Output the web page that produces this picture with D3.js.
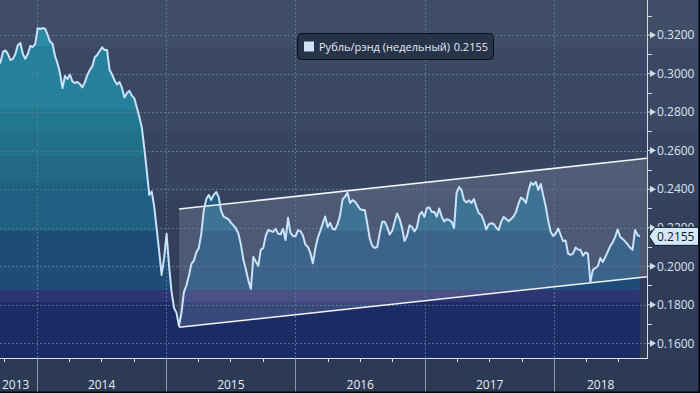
<!DOCTYPE html>
<html><head><meta charset="utf-8">
<script src="https://cdn.jsdelivr.net/npm/d3@7/dist/d3.min.js"></script>
<style>html,body{margin:0;padding:0;background:#2c3a55;} svg{display:block;}</style>
</head><body>
<svg id="chart" width="700" height="393"></svg>
<script>
// ---------- DATA ----------
const seriesName = "Рубль/рэнд (недельный)";
const firstWeek = "2013-09-13";          // weekly observations (Fridays)
const weeklyValues = [
0.3039,0.3060,0.3112,0.3120,0.3101,0.3070,0.3076,0.3101,0.3148,0.3159,
0.3101,0.3076,0.3101,0.3143,0.3138,0.3153,0.3236,0.3231,0.3236,0.3233,
0.3200,0.3166,0.3153,0.3091,0.3053,0.3001,0.2925,0.2987,0.2972,0.2995,
0.2959,0.2951,0.2956,0.2946,0.2928,0.2954,0.2992,0.3018,0.3037,0.3083,
0.3096,0.3117,0.3136,0.3122,0.3122,0.3018,0.2995,0.2964,0.2943,0.2956,
0.2925,0.2876,0.2899,0.2910,0.2885,0.2871,0.2824,0.2775,0.2720,0.2614,
0.2497,0.2370,0.2387,0.2310,0.2194,0.2079,0.1955,0.2043,0.2168,0.2002,
0.1867,0.1784,0.1758,0.1690,0.1758,0.1867,0.1900,0.1950,0.2012,0.2028,
0.2072,0.2095,0.2168,0.2290,0.2347,0.2370,0.2344,0.2370,0.2385,0.2360,
0.2287,0.2258,0.2251,0.2243,0.2225,0.2212,0.2196,0.2168,0.2111,0.2033,
0.1983,0.1926,0.1882,0.2048,0.2025,0.2002,0.2085,0.2095,0.2157,0.2188,
0.2183,0.2178,0.2194,0.2168,0.2166,0.2194,0.2136,0.2251,0.2173,0.2157,
0.2155,0.2186,0.2183,0.2160,0.2113,0.2100,0.2069,0.2015,0.2090,0.2147,
0.2183,0.2222,0.2258,0.2204,0.2225,0.2194,0.2191,0.2219,0.2264,0.2347,
0.2361,0.2381,0.2328,0.2343,0.2335,0.2317,0.2297,0.2292,0.2292,0.2219,
0.2142,0.2105,0.2095,0.2100,0.2173,0.2231,0.2231,0.2204,0.2165,0.2183,
0.2230,0.2274,0.2245,0.2199,0.2131,0.2157,0.2212,0.2204,0.2181,0.2201,
0.2266,0.2282,0.2256,0.2302,0.2305,0.2282,0.2283,0.2257,0.2300,0.2257,
0.2232,0.2244,0.2240,0.2230,0.2199,0.2380,0.2411,0.2396,0.2344,0.2331,
0.2342,0.2328,0.2349,0.2308,0.2274,0.2267,0.2235,0.2191,0.2217,0.2223,
0.2219,0.2200,0.2188,0.2230,0.2256,0.2245,0.2233,0.2245,0.2258,0.2282,
0.2326,0.2356,0.2347,0.2328,0.2391,0.2434,0.2422,0.2437,0.2396,0.2427,
0.2365,0.2310,0.2235,0.2178,0.2157,0.2170,0.2196,0.2162,0.2130,0.2134,
0.2066,0.2059,0.2066,0.2097,0.2087,0.2085,0.2055,0.2072,0.2064,0.1919,
0.1981,0.1991,0.2000,0.2043,0.2022,0.2048,0.2076,0.2105,0.2124,0.2152,
0.2191,0.2152,0.2142,0.2129,0.2113,0.2097,0.2085,0.2188,0.2162,0.2155
];
const lastValue = 0.2155;
const channelDates = ["2015-02-06", "2018-09-20"];
const channelUpper = [0.2297, 0.2560];
const channelLower = [0.1683, 0.1946];
const yTicks = [0.16,0.18,0.20,0.22,0.24,0.26,0.28,0.30,0.32];
const yMinorTicks = [0.17,0.19,0.21,0.23,0.25,0.27,0.29,0.31,0.33];
const yearLabels = ["2013","2014","2015","2016","2017","2018"];

// ---------- LAYOUT ----------
const W = 700, H = 393, plotR = 647, plotB = 358;
const svg = d3.select("#chart");
const parse = d3.timeParse("%Y-%m-%d");
const start = parse(firstWeek);
const dates = weeklyValues.map((v,i) => d3.timeDay.offset(start, 7*i));
const data = weeklyValues.map((v,i) => ({d: dates[i], v}));

const x = d3.scaleTime()
  .domain([new Date(2013,8,18,12), new Date(2018,8,19,20)])
  .range([0, plotR]);
const y = d3.scaleLinear().domain([0.16, 0.32]).range([343.3, 35]);

const defs = svg.append("defs");
defs.append("clipPath").attr("id","plotclip").append("rect")
  .attr("x",0).attr("y",0).attr("width",plotR).attr("height",plotB);

// background bands
const bgBands = [[0,47,"#404d67"],[47,130,"#3b4863"],[130,200,"#37445f"],[200,270,"#333f5b"],[270,plotB,"#2f3b57"]];
svg.append("g").selectAll("rect").data(bgBands).join("rect")
  .attr("x",0).attr("width",W).attr("y",d=>d[0]).attr("height",d=>d[1]-d[0]).attr("fill",d=>d[2]);

// area gradient (hard bands)
const areaBands = [[0,46,"#2a8ba5"],[46,109,"#25819b"],[109,131,"#237891"],[131,156,"#22718b"],[156,183,"#216987"],[183,231,"#1f5f81"],[231,290,"#1d4c78"],[290,302,"#2e3573"],[302,plotB,"#1b2c64"]];
const grad = defs.append("linearGradient").attr("id","areagrad")
  .attr("gradientUnits","userSpaceOnUse").attr("x1",0).attr("y1",0).attr("x2",0).attr("y2",plotB);
areaBands.forEach(b=>{
  grad.append("stop").attr("offset",b[0]/plotB).attr("stop-color",b[2]);
  grad.append("stop").attr("offset",b[1]/plotB).attr("stop-color",b[2]);
});

const plot = svg.append("g").attr("clip-path","url(#plotclip)");

const area = d3.area().x(d=>x(d.d)).y0(plotB).y1(d=>y(d.v));
plot.append("path").datum(data).attr("d",area).attr("fill","url(#areagrad)");

// channel overlay
const ch = channelDates.map((d,i)=>({d: parse(d), u: channelUpper[i], l: channelLower[i]}));
plot.append("path").datum(ch)
  .attr("d", d3.area().x(d=>x(d.d)).y0(d=>y(d.l)).y1(d=>y(d.u)))
  .attr("fill","rgba(215,222,235,0.17)");

// gridlines
const grid = plot.append("g").attr("stroke","#5d7f99").attr("stroke-width",1).attr("stroke-dasharray","2,2").attr("opacity",0.85);
grid.selectAll("line.h").data(yTicks).join("line").attr("class","h")
  .attr("x1",0).attr("x2",plotR).attr("y1",d=>Math.round(y(d))+0.5).attr("y2",d=>Math.round(y(d))+0.5);
const yearStarts = d3.timeYear.range(new Date(2014,0,1), new Date(2018,0,2));
grid.selectAll("line.v").data(yearStarts).join("line").attr("class","v")
  .attr("y1",0).attr("y2",plotB).attr("x1",d=>Math.round(x(d))+0.5).attr("x2",d=>Math.round(x(d))+0.5);

// channel lines
const chLineU = d3.line().x(d=>x(d.d)).y(d=>y(d.u));
const chLineL = d3.line().x(d=>x(d.d)).y(d=>y(d.l));
plot.append("path").datum(ch).attr("d",chLineU).attr("fill","none").attr("stroke","#f2f4f7").attr("stroke-width",1.5);
plot.append("path").datum(ch).attr("d",chLineL).attr("fill","none").attr("stroke","#f2f4f7").attr("stroke-width",1.5);

// series line
plot.append("path").datum(data)
  .attr("d", d3.line().x(d=>x(d.d)).y(d=>y(d.v)))
  .attr("fill","none").attr("stroke","#c8e3fb").attr("stroke-width",2).attr("stroke-linejoin","round");

// ---------- RIGHT AXIS ----------
const ax = svg.append("g");
ax.append("line").attr("x1",plotR+0.5).attr("x2",plotR+0.5).attr("y1",0).attr("y2",plotB).attr("stroke","#d5dbe3");
ax.selectAll("line.minor").data(yMinorTicks.filter(v=>y(v)>=0 && y(v)<=plotB)).join("line").attr("class","minor")
  .attr("x1",plotR).attr("x2",plotR+5).attr("y1",d=>Math.round(y(d))+0.5).attr("y2",d=>Math.round(y(d))+0.5).attr("stroke","#d5dbe3");
ax.selectAll("path.tri").data(yTicks).join("path").attr("class","tri")
  .attr("d",d=>{const t=y(d); return `M${plotR},${t-0.5}h3l0,-3l6,3.5l-6,3.5l0,-3h-3z`;})
  .attr("fill","#d5dbe3");
ax.selectAll("text").data(yTicks).join("text")
  .attr("x",657).attr("y",d=>y(d)).attr("dy","0.36em")
  .attr("font-family","'Open Sans', sans-serif").attr("font-size",12).attr("fill","#dde4ee")
  .text(d=>d3.format(".4f")(d));

// last value label
const ly = y(lastValue);
svg.append("path")
  .attr("d",`M649,${ly}L655,${ly-9}H698.5V${ly+9}H655Z`)
  .attr("fill","#d4e8fb").attr("stroke","#141a26").attr("stroke-width",1);
svg.append("text").attr("x",657).attr("y",ly).attr("dy","0.36em")
  .attr("font-family","'Open Sans', sans-serif").attr("font-size",12).attr("fill","#111a2a")
  .text(d3.format(".4f")(lastValue));

// ---------- BOTTOM AXIS ----------
const bx = svg.append("g");
bx.append("rect").attr("x",0).attr("y",plotB).attr("width",W).attr("height",H-plotB).attr("fill","#2c3a55");
bx.append("line").attr("x1",0).attr("x2",plotR+1).attr("y1",plotB+0.5).attr("y2",plotB+0.5).attr("stroke","#dfe4ea");
const quarters = d3.timeMonth.every(3).range(x.domain()[0], x.domain()[1]).filter(d=>d.getMonth()!==0);
bx.selectAll("line.q").data(quarters).join("line").attr("class","q")
  .attr("x1",d=>Math.round(x(d))+0.5).attr("x2",d=>Math.round(x(d))+0.5).attr("y1",plotB).attr("y2",plotB+4).attr("stroke","#e6eaef");
bx.selectAll("line.yr").data(yearStarts).join("line").attr("class","yr")
  .attr("x1",d=>Math.round(x(d))+0.5).attr("x2",d=>Math.round(x(d))+0.5).attr("y1",plotB).attr("y2",H).attr("stroke","#8f98a8");
bx.selectAll("text").data(yearLabels).join("text")
  .attr("x",d=>{
    const a = Math.max(0, x(new Date(+d,0,1))), b = Math.min(plotR, x(new Date(+d+1,0,1)));
    return (b-a) < 60 ? a+2 : (a+b)/2;
  })
  .attr("text-anchor",d=>{
    const a = Math.max(0, x(new Date(+d,0,1))), b = Math.min(plotR, x(new Date(+d+1,0,1)));
    return (b-a) < 60 ? "start" : "middle";
  })
  .attr("y",388.5)
  .attr("font-family","'Open Sans', sans-serif").attr("font-size",12).attr("fill","#e8edf3")
  .text(d=>d);

// frame edges
svg.append("rect").attr("x",0).attr("y",H-1.5).attr("width",W).attr("height",1.5).attr("fill","#05070b");
svg.append("rect").attr("x",W-1.5).attr("y",0).attr("width",1.5).attr("height",H).attr("fill","#05070b");

// ---------- LEGEND ----------
const lg = svg.append("g");
lg.append("rect").attr("x",297.5).attr("y",33.5).attr("width",196).attr("height",26).attr("rx",4)
  .attr("fill","#263349").attr("stroke","#0a0e17");
lg.append("rect").attr("x",304).attr("y",41.5).attr("width",10).attr("height",10).attr("fill","#cfe2f7");
lg.append("text").attr("x",319).attr("y",50.5)
  .attr("font-family","'Open Sans', sans-serif").attr("font-size",11).attr("fill","#e6ecf5")
  .text(seriesName);
lg.append("text").attr("x",488).attr("y",50.5).attr("text-anchor","end")
  .attr("font-family","'Open Sans', sans-serif").attr("font-size",11).attr("fill","#e6ecf5")
  .text(d3.format(".4f")(lastValue));
</script>
</body></html>
